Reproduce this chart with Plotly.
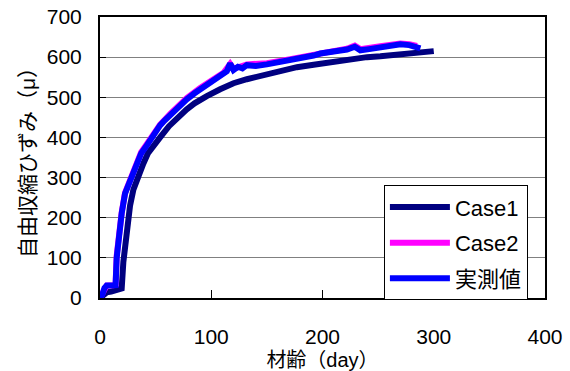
import plotly.graph_objects as go

# 実測値 (measured)
meas_day = [0, 2, 4, 6, 9, 12, 14, 15, 16.5, 18, 19.5, 22.5, 27, 30, 33, 37, 42, 46.5, 54,
            58, 64, 68, 72, 78, 85, 90, 96, 102, 107, 111, 114, 117, 120, 124, 128, 132, 140,
            150, 160, 171, 180, 192, 198, 208, 216, 222, 229, 234, 242, 252, 262, 270, 278, 285, 288]
meas_val = [0, 8, 25, 31, 31, 32, 32, 100, 150, 185, 211, 260, 293, 318, 338, 360, 380, 401, 430,
            442, 458, 470, 482, 495, 510, 520, 528, 542, 552, 559, 565, 584, 568, 576, 572, 580, 578,
            582, 587, 592, 596, 604, 609, 612, 617, 619, 626, 617, 620, 625, 628, 632, 630, 627, 622]

# Case1
c1_day = [0, 3, 6, 10, 14, 17, 19.5, 21, 24, 27, 30, 34.5, 39, 43, 48, 54, 62, 70, 78, 85,
          90, 96, 108, 120, 132, 147, 162, 177, 192, 210, 225, 240, 252, 264, 279, 290, 300]
c1_val = [0, 8, 14, 16, 18, 20, 24, 90, 170, 230, 270, 305, 335, 360, 380, 400, 428, 450, 470, 485,
          495, 503, 520, 535, 545, 555, 565, 575, 581, 589, 595, 600, 602, 605, 610, 613, 615]

# Case2
c2_day = [0, 2, 4, 6, 12, 14, 15, 16.5, 19.5, 22.5, 27, 30, 37, 42, 46.5, 54, 64, 72, 78, 90,
          102, 111, 117, 120, 132, 150, 171, 192, 208, 222, 229, 234, 252, 270, 278, 285]
c2_val = [0, 10, 26, 31, 32, 33, 105, 152, 213, 262, 296, 321, 363, 383, 404, 432, 461, 485, 498, 523,
          545, 561, 583, 571, 582, 585, 595, 606, 614, 621, 629, 620, 627, 634, 632, 628]

x_ticks = [0, 100, 200, 300, 400]
y_ticks = [0, 100, 200, 300, 400, 500, 600, 700]

FONT = "Liberation Sans, Arial, Noto Sans CJK JP, sans-serif"

fig = go.Figure()
fig.add_trace(go.Scatter(x=c1_day, y=c1_val, mode="lines", name="Case1",
                         line=dict(color="#000080", width=6), legendgroup="a"))
fig.add_trace(go.Scatter(x=c2_day, y=c2_val, mode="lines", name="Case2",
                         line=dict(color="#FF00FF", width=6), legendgroup="b"))
fig.add_trace(go.Scatter(x=meas_day, y=meas_val, mode="lines", name="実測値",
                         line=dict(color="#0000FF", width=6), legendgroup="c"))

fig.update_layout(
    width=570, height=371,
    margin=dict(l=100, r=25, t=17, b=73),
    paper_bgcolor="white", plot_bgcolor="white",
    font=dict(family=FONT, size=21, color="black"),
    xaxis=dict(range=[0, 400], tickvals=x_ticks, ticks="inside", ticklen=8, tickcolor="black",
               showline=True, linecolor="black", linewidth=2, mirror=True,
               showgrid=False, zeroline=False, ticklabelstandoff=19,
               tickfont=dict(size=21), automargin=False,
               title=dict(text="材齢（day）", font=dict(size=20), standoff=14)),
    yaxis=dict(range=[0, 700], tickvals=y_ticks, ticks="inside", ticklen=6, tickcolor="black",
               showline=True, linecolor="black", linewidth=2, mirror=True,
               showgrid=True, gridcolor="#808080", gridwidth=1, zeroline=False,
               ticklabelstandoff=12, tickfont=dict(size=21), automargin=False,
               title=dict(text="自由収縮ひずみ（μ）", font=dict(size=21), standoff=5)),
    legend=dict(x=0.638, y=0.401, xanchor="left", yanchor="top",
                bgcolor="white", bordercolor="black", borderwidth=1,
                font=dict(size=22), itemwidth=60, tracegroupgap=4),
    showlegend=True,
)

fig.write_html("out.html")
